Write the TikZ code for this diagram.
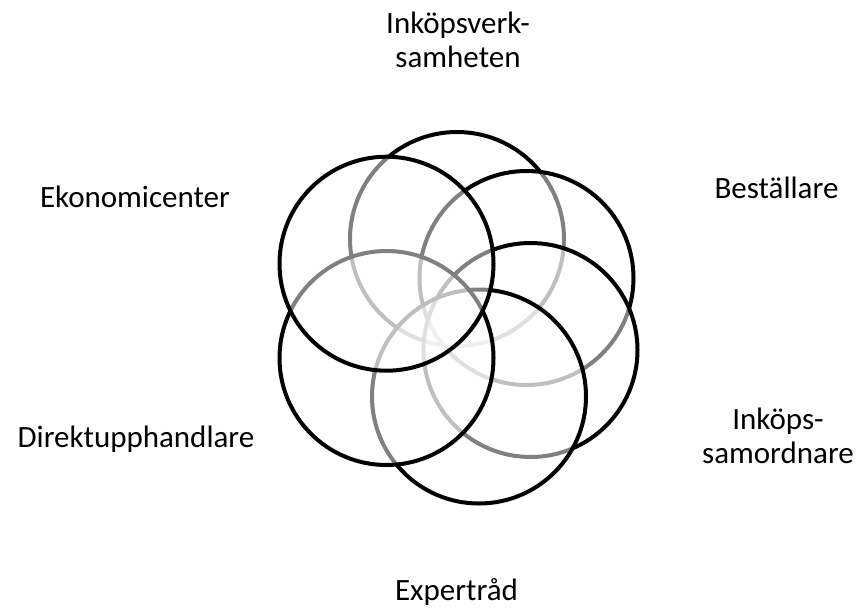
\documentclass[tikz,border=0pt]{standalone}
\usepackage{fontspec}
\setmainfont{Carlito}
\begin{document}
\begin{tikzpicture}[x=1pt,y=-1pt,
  ring/.style={circle, draw=black, line width=4pt, fill=white, fill opacity=0.5,
    minimum size=214pt, inner sep=0pt},
  lbl/.style={font=\fontsize{31}{34}\selectfont, inner sep=0pt, align=center, anchor=base}]
\useasboundingbox (0,0) rectangle (859,608);
\fill[white] (0,0) rectangle (859,608);
% rings, stacked clockwise from the top; each translucent fill
% lightens the outlines of the rings drawn before it
\node[ring] (inkop)  at (457,239) {};
\node[ring] (best)   at (526.5,278) {};
\node[ring] (samord) at (530.5,350) {};
\node[ring] (expert) at (479,396.5) {};
\node[ring] (direkt) at (386.5,358) {};
\node[ring] (ekon)   at (386.5,263.7) {};
% labels (two-line labels are placed by their last baseline)
\node[lbl] (linkop)  at (458,67)  {Inköpsverk-\\samheten};
\node[lbl] (lbest)   at (776.5,198) {Beställare};
\node[lbl] (lsamord) at (778,463) {Inköps-\\samordnare};
\node[lbl] (lexpert) at (456.5,600) {Expertråd};
\node[lbl] (ldirekt) at (136,447) {Direktupphandlare};
\node[lbl] (lekon)   at (135,207) {Ekonomicenter};
\end{tikzpicture}
\end{document}
